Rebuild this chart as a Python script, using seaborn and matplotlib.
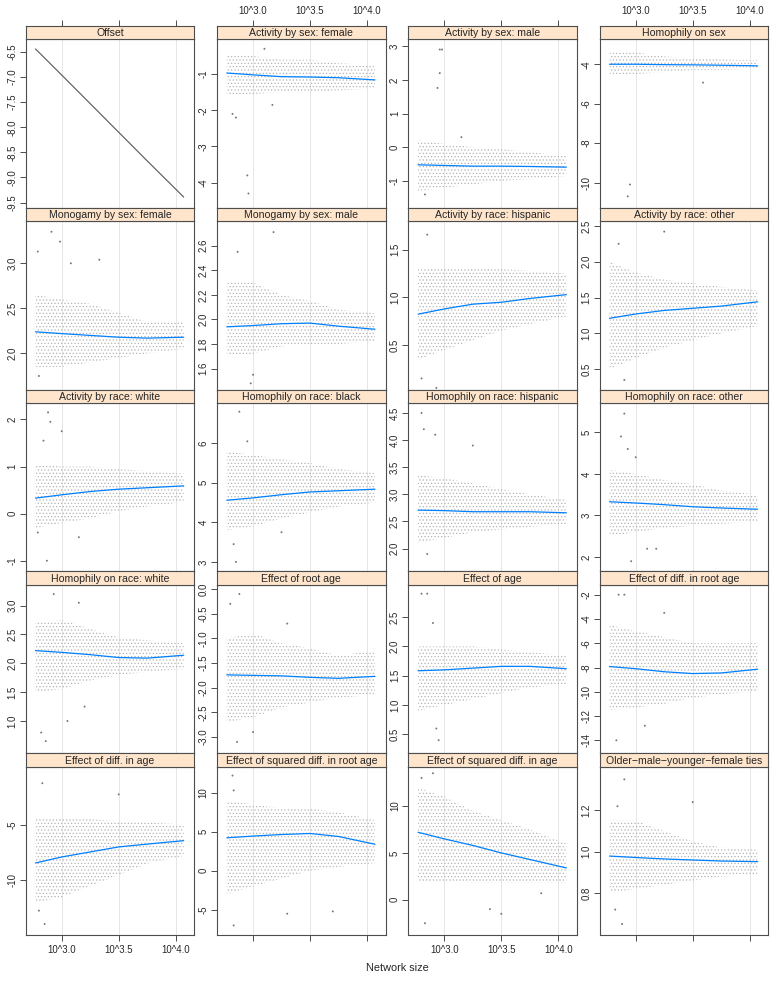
import matplotlib
matplotlib.use("Agg")
import matplotlib.pyplot as plt
import seaborn as sns

sns.set_style("white")
plt.rcParams['font.family'] = ['Liberation Sans', 'DejaVu Sans']
plt.rcParams['hatch.linewidth'] = 0.5

# log10 network size positions where values were read
x_grid = [2.77, 3.0, 3.25, 3.5, 3.75, 4.07]

titles = [
    "Offset", "Activity by sex: female", "Activity by sex: male", "Homophily on sex",
    "Monogamy by sex: female", "Monogamy by sex: male", "Activity by race: hispanic", "Activity by race: other",
    "Activity by race: white", "Homophily on race: black", "Homophily on race: hispanic", "Homophily on race: other",
    "Homophily on race: white", "Effect of root age", "Effect of age", "Effect of diff. in root age",
    "Effect of diff. in age", "Effect of squared diff. in root age", "Effect of squared diff. in age",
    "Older\u2212male\u2212younger\u2212female ties",
]

# smoothed (loess) curve
loess = [
    [-6.44, -6.96, -7.53, -8.10, -8.67, -9.39],
    [-0.97, -1.02, -1.07, -1.08, -1.10, -1.16],
    [-0.52, -0.54, -0.56, -0.56, -0.57, -0.59],
    [-4.00, -4.00, -4.02, -4.03, -4.05, -4.08],
    [2.24, 2.22, 2.20, 2.18, 2.17, 2.18],
    [1.94, 1.95, 1.965, 1.97, 1.945, 1.92],
    [0.825, 0.88, 0.93, 0.95, 0.99, 1.03],
    [1.21, 1.27, 1.32, 1.35, 1.38, 1.44],
    [0.33, 0.40, 0.47, 0.52, 0.55, 0.59],
    [4.56, 4.62, 4.70, 4.77, 4.80, 4.84],
    [2.71, 2.70, 2.68, 2.68, 2.68, 2.66],
    [3.33, 3.30, 3.26, 3.21, 3.18, 3.15],
    [2.22, 2.19, 2.15, 2.10, 2.09, 2.14],
    [-1.74, -1.75, -1.76, -1.79, -1.81, -1.77],
    [1.585, 1.60, 1.63, 1.66, 1.66, 1.62],
    [-7.92, -8.10, -8.35, -8.50, -8.45, -8.14],
    [-8.44, -7.90, -7.45, -7.00, -6.75, -6.44],
    [4.23, 4.45, 4.65, 4.78, 4.40, 3.40],
    [7.20, 6.50, 5.80, 5.00, 4.30, 3.40],
    [0.979, 0.972, 0.965, 0.960, 0.955, 0.952],
]

# spread of the simulated estimates (bulk of the point cloud)
band_lo = [
    None,
    [-1.6, -1.55, -1.5, -1.5, -1.45, -1.4],
    [-1.3, -1.2, -1.1, -1.0, -0.95, -0.85],
    [-4.5, -4.5, -4.4, -4.3, -4.3, -4.2],
    [1.85, 1.85, 1.9, 1.95, 2.0, 2.05],
    [1.7, 1.72, 1.78, 1.8, 1.8, 1.82],
    [0.35, 0.45, 0.55, 0.65, 0.72, 0.8],
    [0.5, 0.65, 0.8, 0.9, 1.0, 1.1],
    [-0.3, -0.2, -0.1, 0.05, 0.15, 0.25],
    [3.8, 3.9, 4.1, 4.25, 4.4, 4.5],
    [2.1, 2.2, 2.3, 2.35, 2.4, 2.45],
    [2.5, 2.6, 2.7, 2.75, 2.8, 2.85],
    [1.5, 1.55, 1.7, 1.8, 1.85, 1.9],
    [-2.7, -2.6, -2.4, -2.3, -2.2, -2.15],
    [0.9, 1.0, 1.1, 1.2, 1.3, 1.35],
    [-11.5, -11.3, -11.0, -10.5, -10.2, -10.0],
    [-12.0, -11.5, -10.5, -9.5, -8.5, -7.8],
    [-3.0, -2.0, -1.0, 0.0, 0.5, 1.0],
    [2.0, 2.0, 1.8, 1.8, 1.8, 1.8],
    [0.8, 0.82, 0.84, 0.86, 0.88, 0.89],
]
band_hi = [
    None,
    [-0.45, -0.5, -0.6, -0.6, -0.7, -0.75],
    [0.2, 0.1, 0.0, -0.05, -0.15, -0.25],
    [-3.4, -3.4, -3.6, -3.7, -3.75, -3.8],
    [2.65, 2.6, 2.55, 2.45, 2.35, 2.35],
    [2.3, 2.3, 2.2, 2.15, 2.08, 2.05],
    [1.3, 1.3, 1.3, 1.3, 1.28, 1.25],
    [2.0, 1.85, 1.75, 1.7, 1.65, 1.6],
    [1.05, 1.0, 1.0, 0.95, 0.9, 0.85],
    [5.8, 5.7, 5.6, 5.5, 5.35, 5.25],
    [3.35, 3.3, 3.2, 3.1, 3.0, 2.9],
    [4.1, 4.0, 3.85, 3.75, 3.6, 3.5],
    [2.7, 2.75, 2.6, 2.45, 2.4, 2.35],
    [-1.0, -0.9, -1.1, -1.2, -1.35, -1.25],
    [2.0, 2.0, 2.0, 1.95, 1.9, 1.85],
    [-4.5, -5.0, -5.5, -6.0, -6.0, -6.0],
    [-4.5, -4.5, -4.5, -4.7, -4.8, -5.0],
    [9.0, 8.5, 8.0, 8.0, 7.5, 6.5],
    [12.0, 11.0, 9.5, 8.5, 7.5, 6.0],
    [1.15, 1.15, 1.1, 1.05, 1.02, 1.01],
]

# isolated estimates outside the bulk
out_x = [
    [],
    [2.82, 2.85, 2.95, 2.96, 3.17, 3.1],
    [2.96, 2.98, 2.96, 2.94, 3.15, 2.83],
    [2.95, 2.93, 3.59],
    [2.91, 2.79, 2.985, 3.08, 3.33, 2.8],
    [3.18, 2.865, 3.0, 2.98],
    [2.85, 2.93, 2.8],
    [3.25, 2.85, 2.9],
    [2.88, 2.9, 2.84, 3.0, 2.79, 3.15, 2.87],
    [2.88, 2.95, 2.83, 2.85, 3.25],
    [2.8, 2.82, 2.92, 2.85, 3.25],
    [2.9, 2.87, 2.93, 3.0, 2.96, 3.1, 3.18],
    [2.82, 2.86, 2.93, 3.15, 3.05, 3.2],
    [2.8, 2.88, 2.86, 3.0, 3.3],
    [2.8, 2.85, 2.9, 2.93, 2.95],
    [2.85, 2.9, 3.25, 2.83, 3.08],
    [2.83, 2.8, 2.85, 3.5],
    [2.82, 2.83, 2.83, 3.3, 3.7],
    [2.8, 2.9, 2.83, 3.5, 3.4, 3.85],
    [2.9, 2.84, 3.5, 2.82, 2.88],
]
out_y = [
    [],
    [-2.1, -2.2, -3.8, -4.3, -1.85, -0.3],
    [2.9, 2.9, 2.2, 1.76, 0.3, -1.4],
    [-10.1, -10.7, -4.93],
    [3.35, 3.13, 3.24, 3.0, 3.04, 1.75],
    [2.71, 2.55, 1.55, 1.48],
    [1.66, 0.05, 0.15],
    [2.42, 2.25, 0.35],
    [2.15, 1.95, 1.55, 1.75, -0.4, -0.5, -1.0],
    [6.8, 6.05, 3.45, 3.0, 3.75],
    [4.5, 4.2, 4.1, 1.9, 3.9],
    [5.45, 4.9, 4.6, 4.4, 1.9, 2.2, 2.2],
    [0.8, 0.65, 3.2, 3.05, 1.0, 1.25],
    [-0.3, -0.1, -3.1, -2.9, -0.7],
    [2.9, 2.9, 2.4, 0.6, 0.4],
    [-2.0, -2.0, -3.5, -14.0, -12.8],
    [-1.3, -12.7, -13.9, -2.3],
    [12.2, 10.3, -7.0, -5.5, -5.2],
    [13.0, 13.5, -2.5, -1.5, -1.0, 0.7],
    [1.35, 1.22, 1.24, 0.72, 0.65],
]

y_limits = [
    (-9.60, -6.25), (-4.69, -0.04), (-1.79, 3.2), (-11.27, -2.74),
    (1.60, 3.466), (1.43, 2.798), (0.034, 1.80), (0.216, 2.564),
    (-1.226, 2.345), (2.76, 7.015), (1.58, 4.68), (1.655, 5.70),
    (0.44, 3.356), (-3.33, 0.08), (0.177, 3.046), (-15.07, -1.21),
    (-14.9, 0.15), (-8.25, 13.3), (-3.78, 14.17), (0.596, 1.41),
]
y_ticks = [
    [-6.5, -7.0, -7.5, -8.0, -8.5, -9.0, -9.5], [-1, -2, -3, -4], [3, 2, 1, 0, -1], [-4, -6, -8, -10],
    [3.0, 2.5, 2.0], [2.6, 2.4, 2.2, 2.0, 1.8, 1.6], [1.5, 1.0, 0.5], [2.5, 2.0, 1.5, 1.0, 0.5],
    [2, 1, 0, -1], [6, 5, 4, 3], [4.5, 4.0, 3.5, 3.0, 2.5, 2.0], [5, 4, 3, 2],
    [3.0, 2.5, 2.0, 1.5, 1.0], [0.0, -0.5, -1.0, -1.5, -2.0, -2.5, -3.0], [2.5, 2.0, 1.5, 1.0, 0.5],
    [-2, -4, -6, -8, -10, -12, -14],
    [-5, -10], [10, 5, 0, -5], [10, 5, 0], [1.2, 1.0, 0.8],
]

x_ticks = [3.0, 3.5, 4.0]
x_labels = ["10^3.0", "10^3.5", "10^4.0"]
x_limits = (2.684, 4.163)

W, H = 778, 981
fig = plt.figure(figsize=(W / 100, H / 100), dpi=100)

col_left = [25.7, 217.0, 408.3, 599.7]
pan_w = 168.6
row_h = 181.9
strip_h = 13.7
top0 = 25.7
frame = "#4d4d4d"
tick_fs = 6.9

for i, title in enumerate(titles):
    r, c = divmod(i, 4)
    top = top0 + r * row_h
    ax = fig.add_axes([col_left[c] / W, 1 - (top + row_h) / H, pan_w / W, (row_h - strip_h) / H])
    sax = fig.add_axes([col_left[c] / W, 1 - (top + strip_h) / H, pan_w / W, strip_h / H])

    sax.set_facecolor("#ffe5cc")
    sax.set_xlim(*x_limits)
    sax.set_yticks([])
    sax.text(0.5, 0.45, title, transform=sax.transAxes, ha="center", va="center", fontsize=7.6)
    for sp in sax.spines.values():
        sp.set_color(frame)
        sp.set_linewidth(0.8)

    for xt in x_ticks:
        ax.axvline(xt, color="#e6e6e6", linewidth=0.7, zorder=0)

    if band_lo[i] is not None:
        ax.fill_between(x_grid, band_lo[i], band_hi[i], facecolor="none",
                        edgecolor="#b4b4b4", hatch=".....", linewidth=0, zorder=1)
        sns.scatterplot(x=out_x[i], y=out_y[i], ax=ax, s=2, color="#777777",
                        edgecolor="none", zorder=2)
        sns.lineplot(x=x_grid, y=loess[i], ax=ax, color="#0080ff", linewidth=0.9, zorder=3)
    else:
        sns.lineplot(x=x_grid, y=loess[i], ax=ax, color="#555555", linewidth=0.8, zorder=3)

    ax.set_xlim(*x_limits)
    ax.set_ylim(*y_limits[i])
    ax.set_xlabel("")
    ax.set_ylabel("")

    yt = y_ticks[i]
    if all(float(v).is_integer() for v in yt) and i not in (0, 4, 13):
        ylabs = ["%d" % v for v in yt]
    else:
        ylabs = ["%.1f" % v for v in yt]
    ax.set_yticks(yt)
    ax.set_yticklabels(ylabs, rotation=90, va="center", fontsize=tick_fs)
    ax.tick_params(axis="y", direction="out", length=4, width=0.7, color=frame, pad=2, left=True)

    # x ticks: only on outer edges, labels alternate between bottom and top
    ax.set_xticks(x_ticks)
    sax.set_xticks(x_ticks)
    if r == 4:
        ax.tick_params(axis="x", direction="out", length=4, width=0.7, color=frame,
                       bottom=True, top=False, labelbottom=(c % 2 == 0), labelsize=tick_fs, pad=3)
        ax.set_xticklabels(x_labels)
    else:
        ax.tick_params(axis="x", bottom=False, labelbottom=False)
    if r == 0:
        sax.tick_params(axis="x", direction="out", length=4, width=0.7, color=frame,
                        top=True, bottom=False, labeltop=(c % 2 == 1), labelbottom=False,
                        labelsize=tick_fs, pad=3)
        sax.set_xticklabels(x_labels)
    else:
        sax.tick_params(axis="x", bottom=False, top=False, labelbottom=False, labeltop=False)

    for sp in ax.spines.values():
        sp.set_color(frame)
        sp.set_linewidth(0.8)

fig.text(397 / W, 1 - 968 / H, "Network size", ha="center", va="center", fontsize=7.8)

fig.savefig("out.png", dpi=100)
